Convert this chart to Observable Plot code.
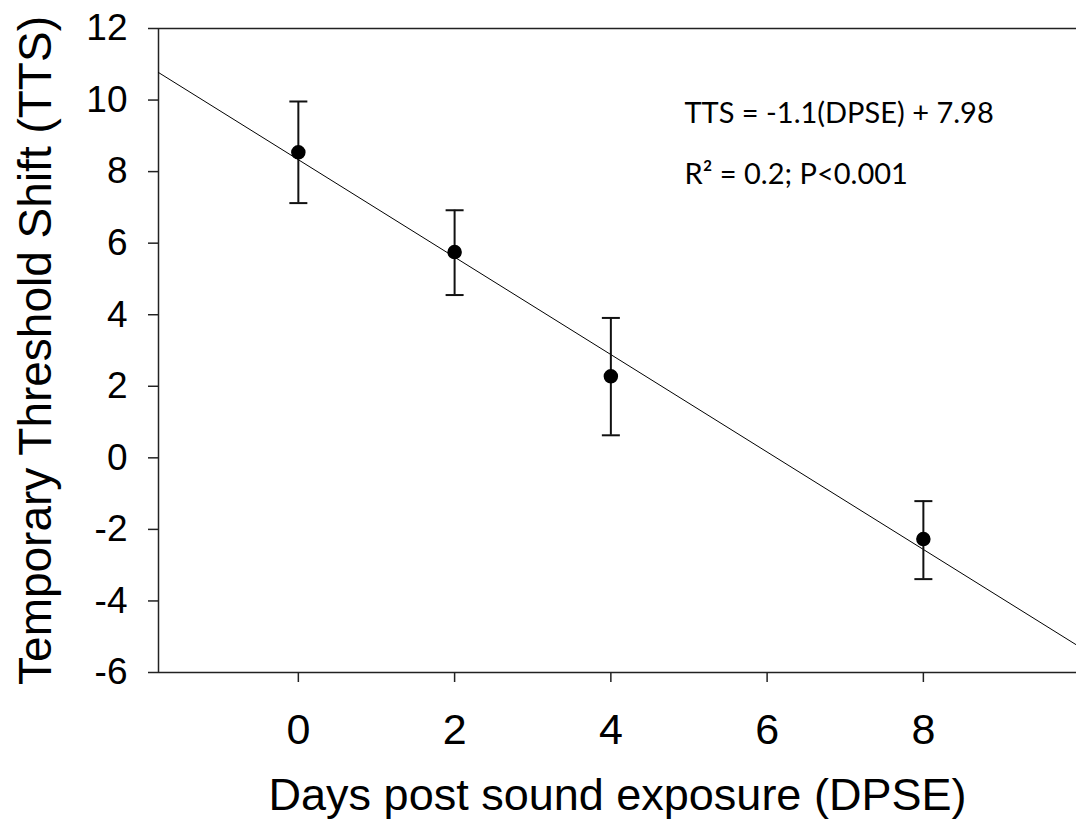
<!DOCTYPE html>
<html>
<head>
<meta charset="utf-8">
<script src="https://cdn.jsdelivr.net/npm/d3@7"></script>
<script src="https://cdn.jsdelivr.net/npm/@observablehq/plot@0.6"></script>
<style>
  html, body { margin: 0; padding: 0; background: #fff; }
  #chart { width: 1076px; height: 835px; }
</style>
</head>
<body>
<div id="chart"></div>
<script>
// Data
const days = [0, 2, 4, 8];
const ttsMean = [8.54, 5.75, 2.28, -2.27];
const ttsLow = [7.12, 4.55, 0.63, -3.39];
const ttsHigh = [9.96, 6.92, 3.91, -1.21];

// Regression line endpoints as drawn
const fitX = [-1.79, 9.96];
const fitY = [10.77, -5.23];

const xTicks = [0, 2, 4, 6, 8];
const yTicks = [-6, -4, -2, 0, 2, 4, 6, 8, 10, 12];
const xDomain = [-1.79, 9.96];
const yDomain = [-6, 12];

const xLabel = "Days post sound exposure (DPSE)";
const yLabel = "Temporary Threshold Shift (TTS)";
const eqText = "TTS = -1.1(DPSE) + 7.98";
const statText = "R² = 0.2; P<0.001";

const points = days.map((d, i) => ({x: d, y: ttsMean[i], lo: ttsLow[i], hi: ttsHigh[i]}));
const fit = fitX.map((x, i) => ({x, y: fitY[i]}));

const cap = {
  draw(context) {
    context.moveTo(-9, 0);
    context.lineTo(9, 0);
  }
};

const axisColor = "#222";
const annFont = "Lato, 'Open Sans', sans-serif";

const chart = Plot.plot({
  width: 1076,
  height: 835,
  marginLeft: 158,
  marginRight: 0,
  marginTop: 28,
  marginBottom: 163,
  style: {fontFamily: "'Liberation Sans', Arial, sans-serif", background: "#fff", color: "#000"},
  x: {domain: xDomain, ticks: xTicks},
  y: {domain: yDomain, ticks: yTicks},
  marks: [
    Plot.axisX({ticks: xTicks, tickSize: 10, tickPadding: 31, fontSize: 43, label: null, stroke: axisColor, strokeWidth: 1.5, fill: "#000", tickFormat: d => String(d)}),
    Plot.axisY({ticks: yTicks, tickSize: 10, tickPadding: 21, fontSize: 37, label: null, stroke: axisColor, strokeWidth: 1.5, fill: "#000", tickFormat: d => String(d)}),
    Plot.ruleY([yDomain[1]], {stroke: axisColor, strokeWidth: 1.5}),
    Plot.ruleY([yDomain[0]], {stroke: axisColor, strokeWidth: 1.5}),
    Plot.ruleX([xDomain[0]], {stroke: axisColor, strokeWidth: 1.5}),
    Plot.line(fit, {x: "x", y: "y", stroke: "#000", strokeWidth: 1}),
    Plot.ruleX(points, {x: "x", y1: "lo", y2: "hi", stroke: "#111", strokeWidth: 2}),
    Plot.dot(points, {x: "x", y: "lo", symbol: cap, stroke: "#111", strokeWidth: 2}),
    Plot.dot(points, {x: "x", y: "hi", symbol: cap, stroke: "#111", strokeWidth: 2}),
    Plot.dot(points, {x: "x", y: "y", r: 6.5, fill: "#000", stroke: "#000"}),
    Plot.text([xLabel], {frameAnchor: "bottom", textAnchor: "middle", dy: 137, fontSize: 45, fill: "#000"}),
    Plot.text([yLabel], {frameAnchor: "left", textAnchor: "middle", dx: -122, rotate: -90, fontSize: 46, fill: "#000"}),
    Plot.text([eqText], {frameAnchor: "top-left", dx: 526, dy: 74, textAnchor: "start", fontSize: 29, fontFamily: annFont, fill: "#000"}),
    Plot.text([statText], {frameAnchor: "top-left", dx: 526, dy: 135, textAnchor: "start", fontSize: 29, fontFamily: annFont, fill: "#000"})
  ]
});
document.getElementById("chart").appendChild(chart);
</script>
</body>
</html>
